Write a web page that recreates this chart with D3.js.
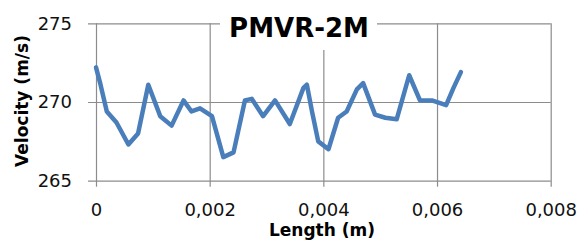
<!DOCTYPE html>
<html>
<head>
<meta charset="utf-8">
<script src="https://cdn.jsdelivr.net/npm/d3@7"></script>
<style>
  body { margin: 0; background: #fff; }
  svg { display: block; }
</style>
</head>
<body>
<div id="chart"></div>
<script>
// values
const lengthM = [0, 0.00008, 0.00019, 0.00036, 0.00057, 0.00074, 0.00092, 0.00113, 0.00133, 0.00154,
  0.00168, 0.00183, 0.00204, 0.00224, 0.00242, 0.00262, 0.00274, 0.00294, 0.00315, 0.00341,
  0.00365, 0.00371, 0.00380, 0.00391, 0.00409, 0.00426, 0.00441, 0.00459, 0.00470, 0.00491,
  0.00509, 0.00529, 0.00551, 0.00570, 0.00591, 0.00616, 0.00629, 0.00642];
const velocity = [272.2, 271.1, 269.4, 268.7, 267.3, 268.0, 271.1, 269.1, 268.5, 270.1,
  269.4, 269.6, 269.1, 266.5, 266.8, 270.1, 270.2, 269.1, 270.1, 268.6,
  270.9, 271.1, 269.4, 267.5, 267.0, 269.0, 269.4, 270.8, 271.2, 269.2,
  269.0, 268.9, 271.7, 270.1, 270.1, 269.8, 270.9, 271.9];
const xTicks = [0, 0.002, 0.004, 0.006, 0.008];
const yTicks = [265, 270, 275];
const xTickLabels = ["0", "0,002", "0,004", "0,006", "0,008"];

const W = 581, H = 242;
const plotL = 96, plotR = 550.7, plotT = 23.3, plotB = 180.7;

const svg = d3.select("#chart").append("svg")
    .attr("width", W)
    .attr("height", H);

const x = d3.scaleLinear().domain([0, 0.008]).range([plotL, plotR]);
const y = d3.scaleLinear().domain([265, 275]).range([plotB, plotT]);

// y axis + horizontal gridlines (ticks extend 8px left of the axis)
const yAxis = svg.append("g")
    .attr("transform", "translate(" + plotR + ",0)")
    .call(d3.axisLeft(y).tickValues(yTicks).tickSize(plotR - plotL + 8).tickPadding(16));
yAxis.select(".domain").remove();
yAxis.selectAll("line").attr("stroke", "#8c8c8c").attr("stroke-width", 1.2);
yAxis.selectAll("text")
    .attr("font-family", "DejaVu Sans")
    .attr("font-size", 18)
    .attr("fill", "#111");

// x axis + vertical gridlines
const xAxis = svg.append("g")
    .attr("transform", "translate(0," + plotT + ")")
    .call(d3.axisBottom(x).tickValues(xTicks).tickSize(plotB - plotT + 6).tickPadding(17)
      .tickFormat(function(d, i) { return xTickLabels[i]; }));
xAxis.select(".domain").remove();
xAxis.selectAll("line").attr("stroke", "#8c8c8c").attr("stroke-width", 1.2);
xAxis.selectAll("text")
    .attr("font-family", "DejaVu Sans")
    .attr("font-size", 18)
    .attr("fill", "#111");

// series
const pts = lengthM.map(function(d, i) { return [d, velocity[i]]; });
svg.append("path")
    .datum(pts)
    .attr("fill", "none")
    .attr("stroke", "#4a7ebb")
    .attr("stroke-width", 4.5)
    .attr("stroke-linejoin", "round")
    .attr("stroke-linecap", "round")
    .attr("d", d3.line().x(function(d) { return x(d[0]); }).y(function(d) { return y(d[1]); }));

// title with white box over the grid
svg.append("rect")
    .attr("x", 220).attr("y", 0)
    .attr("width", 157).attr("height", 50)
    .attr("fill", "#fff");
svg.append("text")
    .attr("x", 299).attr("y", 37)
    .attr("text-anchor", "middle")
    .attr("font-family", "DejaVu Sans")
    .attr("font-weight", "bold")
    .attr("font-size", 26)
    .text("PMVR-2M");

// axis titles
svg.append("text")
    .attr("transform", "translate(28,101) rotate(-90)")
    .attr("text-anchor", "middle")
    .attr("font-family", "DejaVu Sans")
    .attr("font-weight", "bold")
    .attr("font-size", 17)
    .text("Velocity (m/s)");
svg.append("text")
    .attr("x", 322).attr("y", 236)
    .attr("text-anchor", "middle")
    .attr("font-family", "DejaVu Sans")
    .attr("font-weight", "bold")
    .attr("font-size", 17)
    .text("Length (m)");
</script>
</body>
</html>
